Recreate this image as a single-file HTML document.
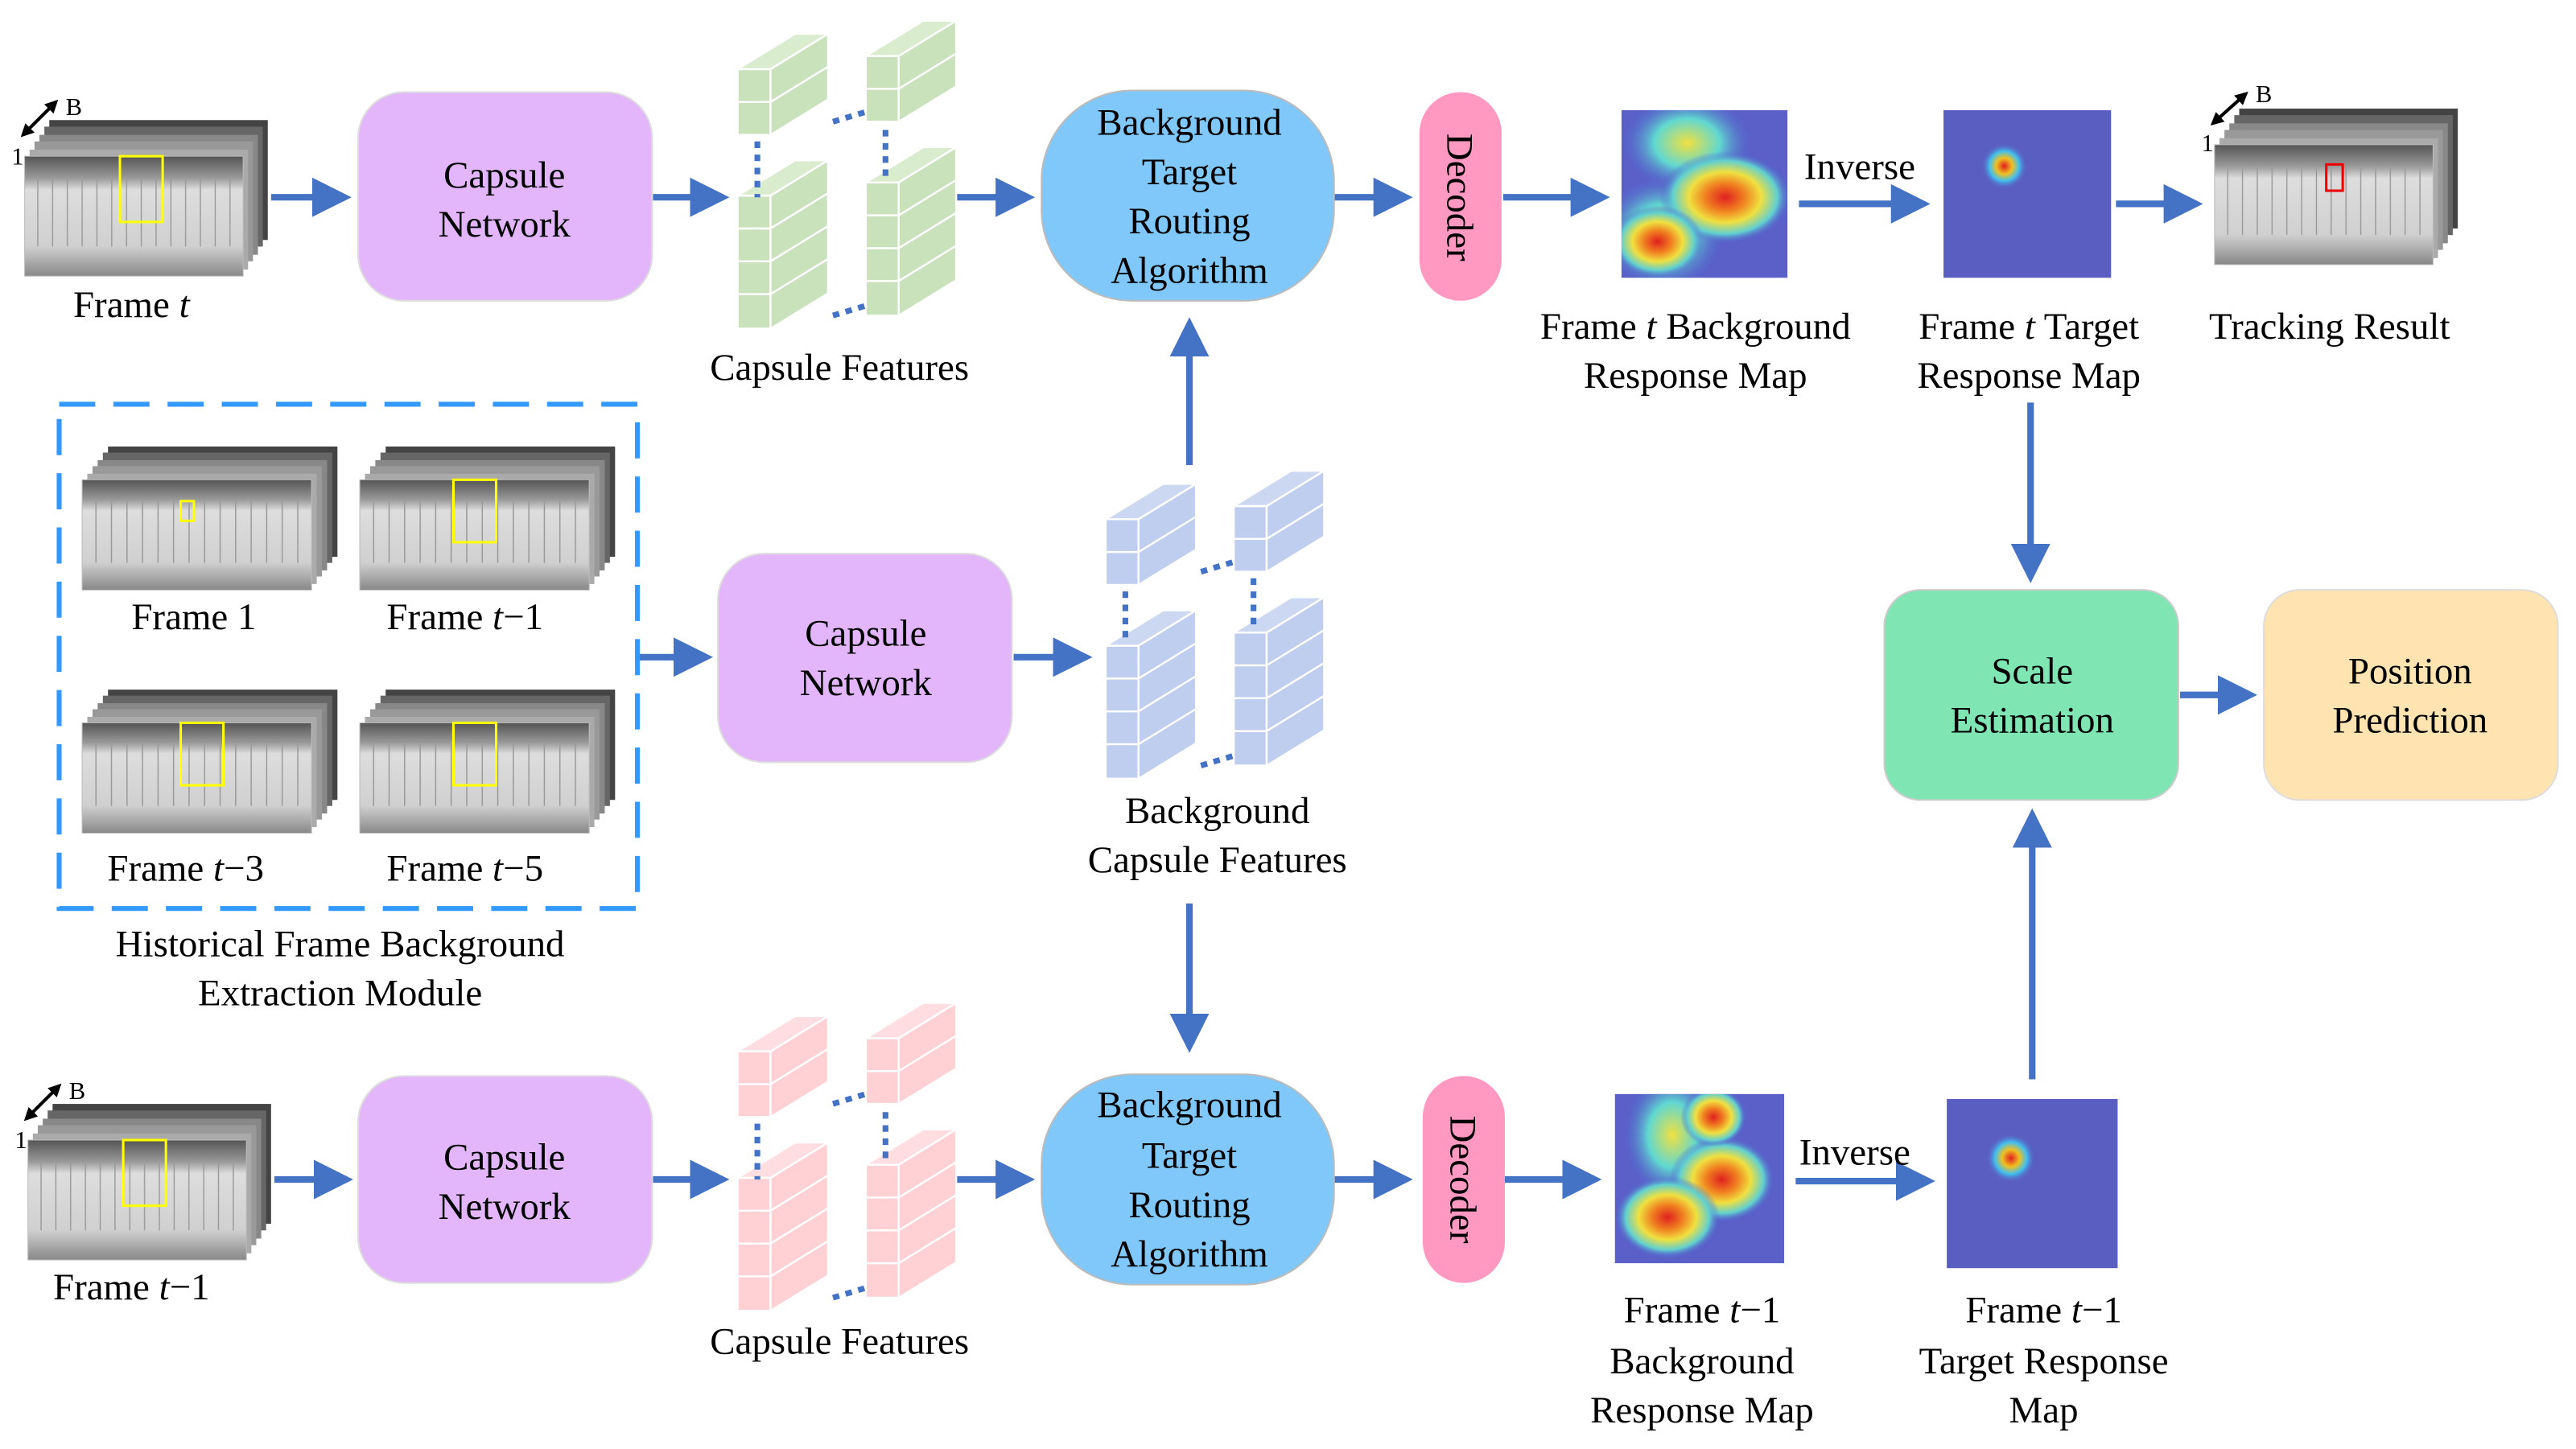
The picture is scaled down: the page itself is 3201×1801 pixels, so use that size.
<!DOCTYPE html>
<html><head><meta charset="utf-8"><style>
html,body{margin:0;padding:0;background:#fff}
svg{display:block}
text{font-family:"Liberation Serif",serif;font-size:23px;fill:#000}
</style></head><body>
<svg width="3201" height="1801" viewBox="0 0 1568 882" xmlns="http://www.w3.org/2000/svg">
<defs>
<marker id="ah" markerWidth="6" markerHeight="6" refX="5" refY="3" orient="auto" markerUnits="strokeWidth"><path d="M0,0 L6,3 L0,6 z" fill="#4472C4"/></marker>
<marker id="bh" markerWidth="4" markerHeight="4" refX="3" refY="2" orient="auto-start-reverse" markerUnits="strokeWidth"><path d="M0,0 L4,2 L0,4 z" fill="#000"/></marker>
<linearGradient id="gray" x1="0" y1="0" x2="0" y2="1"><stop offset="0" stop-color="#555"/><stop offset="0.18" stop-color="#999"/><stop offset="0.28" stop-color="#ddd"/><stop offset="0.75" stop-color="#d0d0d0"/><stop offset="1" stop-color="#888"/></linearGradient>
<pattern id="wall" width="9" height="73" patternUnits="userSpaceOnUse"><rect width="9" height="73" fill="none"/><line x1="8" y1="14" x2="8" y2="55" stroke="#999" stroke-width="0.7"/></pattern>
<radialGradient id="hot"><stop offset="0" stop-color="#e02020"/><stop offset="0.3" stop-color="#f08020"/><stop offset="0.55" stop-color="#f0e040"/><stop offset="0.8" stop-color="#60d0d0"/><stop offset="1" stop-color="#5060d0" stop-opacity="0"/></radialGradient>
<radialGradient id="cy"><stop offset="0" stop-color="#f0e040"/><stop offset="0.5" stop-color="#60d8d0"/><stop offset="1" stop-color="#5060d0" stop-opacity="0"/></radialGradient>
<radialGradient id="spot"><stop offset="0" stop-color="#e02020"/><stop offset="0.35" stop-color="#f0c020"/><stop offset="0.65" stop-color="#40c0f0"/><stop offset="1" stop-color="#5a5ec0" stop-opacity="0"/></radialGradient>
<g id="frm">
 <rect x="15" y="-22" width="133" height="73" fill="#444"/>
 <rect x="12" y="-18" width="133" height="73" fill="#666"/>
 <rect x="9" y="-13" width="133" height="73" fill="#888"/>
 <rect x="6" y="-9" width="133" height="73" fill="#999"/>
 <rect x="3" y="-4" width="133" height="73" fill="#aaa"/>
 <rect x="0" y="0" width="133" height="73" fill="url(#gray)"/>
 <rect x="0" y="0" width="133" height="73" fill="url(#wall)"/>
 <rect x="0" y="0" width="133" height="73" fill="none" stroke="#bbb" stroke-width="0.5"/>
</g>
</defs>
<g stroke="#4472C4" stroke-width="4" fill="none" marker-end="url(#ah)">
<line x1="165" y1="120" x2="210" y2="120"/>
<line x1="397" y1="120" x2="440" y2="120"/>
<line x1="582" y1="120" x2="626" y2="120"/>
<line x1="812" y1="120" x2="856" y2="120"/>
<line x1="915" y1="120" x2="976" y2="120"/>
<line x1="1095" y1="124" x2="1171" y2="124"/>
<line x1="1288" y1="124" x2="1337" y2="124"/>
<line x1="1236" y1="245" x2="1236" y2="351"/>
<line x1="1327" y1="423" x2="1370" y2="423"/>
<line x1="1237" y1="657" x2="1237" y2="496"/>
<line x1="388" y1="400" x2="430" y2="400"/>
<line x1="617" y1="400" x2="661" y2="400"/>
<line x1="724" y1="283" x2="724" y2="197"/>
<line x1="724" y1="550" x2="724" y2="637"/>
<line x1="167" y1="718" x2="211" y2="718"/>
<line x1="397" y1="718" x2="440" y2="718"/>
<line x1="582" y1="718" x2="626" y2="718"/>
<line x1="812" y1="718" x2="856" y2="718"/>
<line x1="916" y1="718" x2="971" y2="718"/>
<line x1="1093" y1="719" x2="1174" y2="719"/>
</g>
<!-- boxes -->
<rect x="218" y="56" width="179" height="127" rx="28" fill="#E3B5FA" stroke="#ddd"/>
<text x="307" y="114" text-anchor="middle">Capsule</text><text x="307" y="144" text-anchor="middle">Network</text>
<rect x="437" y="337" width="179" height="127" rx="28" fill="#E3B5FA" stroke="#ddd"/>
<text x="527" y="393" text-anchor="middle">Capsule</text><text x="527" y="423" text-anchor="middle">Network</text>
<rect x="218" y="655" width="179" height="126" rx="28" fill="#E3B5FA" stroke="#ddd"/>
<text x="307" y="712" text-anchor="middle">Capsule</text><text x="307" y="742" text-anchor="middle">Network</text>
<rect x="634" y="55" width="178" height="128" rx="55" fill="#80C8FA" stroke="#bbb"/>
<text x="724" y="82" text-anchor="middle">Background</text><text x="724" y="112" text-anchor="middle">Target</text><text x="724" y="142" text-anchor="middle">Routing</text><text x="724" y="172" text-anchor="middle">Algorithm</text>
<rect x="634" y="654" width="178" height="128" rx="55" fill="#80C8FA" stroke="#bbb"/>
<text x="724" y="680" text-anchor="middle">Background</text><text x="724" y="711" text-anchor="middle">Target</text><text x="724" y="741" text-anchor="middle">Routing</text><text x="724" y="771" text-anchor="middle">Algorithm</text>
<rect x="864" y="56" width="50" height="127" rx="25" fill="#FF99C2"/>
<text transform="translate(881,120) rotate(90)" text-anchor="middle">Decoder</text>
<rect x="866" y="655" width="50" height="126" rx="25" fill="#FF99C2"/>
<text transform="translate(883,718) rotate(90)" text-anchor="middle">Decoder</text>
<rect x="1147" y="359" width="179" height="128" rx="22" fill="#7FE5B3" stroke="#ccc"/>
<text x="1237" y="416" text-anchor="middle">Scale</text><text x="1237" y="446" text-anchor="middle">Estimation</text>
<rect x="1378" y="359" width="179" height="128" rx="22" fill="#FFE3B0" stroke="#ddd"/>
<text x="1467" y="416" text-anchor="middle">Position</text><text x="1467" y="446" text-anchor="middle">Prediction</text>
<!-- dashed module -->
<rect x="36" y="246" width="352" height="307" fill="none" stroke="#3399FF" stroke-width="3" stroke-dasharray="22,11"/>
<!-- frames -->
<g transform="translate(15,95)"><use href="#frm"/><rect x="58" y="0" width="26" height="40" fill="none" stroke="#ff0" stroke-width="1.5"/></g>
<line x1="14" y1="82" x2="34" y2="62" stroke="#000" stroke-width="2" marker-start="url(#bh)" marker-end="url(#bh)"/>
<text x="40" y="70" style="font-size:15px">B</text><text x="7" y="100" style="font-size:15px">1</text>
<text x="80" y="193" text-anchor="middle">Frame <tspan font-style="italic">t</tspan></text>
<g transform="translate(17,694)"><use href="#frm"/><rect x="58" y="0" width="26" height="40" fill="none" stroke="#ff0" stroke-width="1.5"/></g>
<line x1="16" y1="681" x2="36" y2="661" stroke="#000" stroke-width="2" marker-start="url(#bh)" marker-end="url(#bh)"/>
<text x="42" y="669" style="font-size:15px">B</text><text x="9" y="699" style="font-size:15px">1</text>
<text x="80" y="791" text-anchor="middle">Frame <tspan font-style="italic">t</tspan>−1</text>
<g transform="translate(1348,88)"><use href="#frm"/><rect x="68" y="12" width="10" height="16" fill="none" stroke="#e00" stroke-width="1.5"/></g>
<line x1="1347" y1="75" x2="1367" y2="57" stroke="#000" stroke-width="2" marker-start="url(#bh)" marker-end="url(#bh)"/>
<text x="1373" y="62" style="font-size:15px">B</text><text x="1340" y="92" style="font-size:15px">1</text>
<text x="1418" y="206" text-anchor="middle">Tracking Result</text>
<g transform="translate(50,292) scale(1.05,0.92)"><use href="#frm"/></g><rect x="110" y="305" width="8" height="12" fill="none" stroke="#ff0" stroke-width="1.5"/>
<g transform="translate(219,292) scale(1.05,0.92)"><use href="#frm"/></g><rect x="276" y="292" width="26" height="38" fill="none" stroke="#ff0" stroke-width="1.5"/>
<g transform="translate(50,440) scale(1.05,0.92)"><use href="#frm"/></g><rect x="110" y="440" width="26" height="38" fill="none" stroke="#ff0" stroke-width="1.5"/>
<g transform="translate(219,440) scale(1.05,0.92)"><use href="#frm"/></g><rect x="276" y="440" width="26" height="38" fill="none" stroke="#ff0" stroke-width="1.5"/>
<text x="118" y="383" text-anchor="middle">Frame 1</text><text x="283" y="383" text-anchor="middle">Frame <tspan font-style="italic">t</tspan>−1</text>
<text x="113" y="536" text-anchor="middle">Frame <tspan font-style="italic">t</tspan>−3</text><text x="283" y="536" text-anchor="middle">Frame <tspan font-style="italic">t</tspan>−5</text>
<text x="207" y="582" text-anchor="middle">Historical Frame Background</text><text x="207" y="612" text-anchor="middle">Extraction Module</text>
<!-- heatmaps -->
<rect x="987" y="67" width="101" height="102" fill="#5a60c8"/>
<g clip-path="inset(0)">
<svg x="987" y="67" width="101" height="102" overflow="hidden">
<ellipse cx="40" cy="20" rx="40" ry="30" fill="url(#cy)"/>
<ellipse cx="25" cy="75" rx="38" ry="35" fill="url(#cy)"/>
<ellipse cx="63" cy="53" rx="40" ry="28" fill="url(#hot)"/><ellipse cx="22" cy="80" rx="28" ry="22" fill="url(#hot)"/>
</svg></g>
<rect x="1183" y="67" width="102" height="102" fill="#5a5ec0"/><circle cx="1220" cy="101" r="14" fill="url(#spot)"/>
<text x="1132" y="109" text-anchor="middle">Inverse</text>
<text x="1032" y="206" text-anchor="middle">Frame <tspan font-style="italic">t</tspan> Background</text><text x="1032" y="236" text-anchor="middle">Response Map</text>
<text x="1235" y="206" text-anchor="middle">Frame <tspan font-style="italic">t</tspan> Target</text><text x="1235" y="236" text-anchor="middle">Response Map</text>
<rect x="983" y="666" width="103" height="103" fill="#5a60c8"/>
<svg x="983" y="666" width="103" height="103" overflow="hidden">
<ellipse cx="35" cy="25" rx="30" ry="40" fill="url(#cy)"/>
<ellipse cx="65" cy="52" rx="32" ry="26" fill="url(#hot)"/><ellipse cx="32" cy="75" rx="32" ry="25" fill="url(#hot)"/><ellipse cx="60" cy="14" rx="20" ry="18" fill="url(#hot)"/>
</svg>
<rect x="1185" y="669" width="104" height="103" fill="#5a5ec0"/><circle cx="1224" cy="705" r="15" fill="url(#spot)"/>
<text x="1129" y="709" text-anchor="middle">Inverse</text>
<text x="1036" y="805" text-anchor="middle">Frame <tspan font-style="italic">t</tspan>−1</text><text x="1036" y="836" text-anchor="middle">Background</text><text x="1036" y="866" text-anchor="middle">Response Map</text>
<text x="1244" y="805" text-anchor="middle">Frame <tspan font-style="italic">t</tspan>−1</text><text x="1244" y="836" text-anchor="middle">Target Response</text><text x="1244" y="866" text-anchor="middle">Map</text>
<!-- cubes -->
<g stroke="#fff" stroke-width="1.2">
<g fill="#C9E2BC">
<path d="M449,42 h20 v40 h-20z M469,42 l35,-21.5 v40 l-35,21.5z" /><path d="M449,42 l35,-21.5 h20 l-35,21.5z" fill="#D9ECCE"/><line x1="449" y1="62" x2="469" y2="62"/><line x1="469" y1="62" x2="504" y2="40.5"/>
<path d="M449,119 h20 v81 h-20z M469,119 l35,-21.5 v81 l-35,21.5z"/><path d="M449,119 l35,-21.5 h20 l-35,21.5z" fill="#D9ECCE"/>
<path d="M449,139 h20 M449,159 h20 M449,179 h20 M469,139 l35,-21.5 M469,159 l35,-21.5 M469,179 l35,-21.5"/>
<path d="M527,34 h20 v40 h-20z M547,34 l35,-21.5 v40 l-35,21.5z"/><path d="M527,34 l35,-21.5 h20 l-35,21.5z" fill="#D9ECCE"/><path d="M527,54 h20 M547,54 l35,-21.5"/>
<path d="M527,111 h20 v81 h-20z M547,111 l35,-21.5 v81 l-35,21.5z"/><path d="M527,111 l35,-21.5 h20 l-35,21.5z" fill="#D9ECCE"/>
<path d="M527,131 h20 M527,151 h20 M527,171 h20 M547,131 l35,-21.5 M547,151 l35,-21.5 M547,171 l35,-21.5"/>
</g>
<g fill="#FFD0D4">
<path d="M449,640 h20 v40 h-20z M469,640 l35,-21.5 v40 l-35,21.5z"/><path d="M449,640 l35,-21.5 h20 l-35,21.5z" fill="#FFDDE0"/><path d="M449,660 h20 M469,660 l35,-21.5"/>
<path d="M449,717 h20 v81 h-20z M469,717 l35,-21.5 v81 l-35,21.5z"/><path d="M449,717 l35,-21.5 h20 l-35,21.5z" fill="#FFDDE0"/>
<path d="M449,737 h20 M449,757 h20 M449,777 h20 M469,737 l35,-21.5 M469,757 l35,-21.5 M469,777 l35,-21.5"/>
<path d="M527,632 h20 v40 h-20z M547,632 l35,-21.5 v40 l-35,21.5z"/><path d="M527,632 l35,-21.5 h20 l-35,21.5z" fill="#FFDDE0"/><path d="M527,652 h20 M547,652 l35,-21.5"/>
<path d="M527,709 h20 v81 h-20z M547,709 l35,-21.5 v81 l-35,21.5z"/><path d="M527,709 l35,-21.5 h20 l-35,21.5z" fill="#FFDDE0"/>
<path d="M527,729 h20 M527,749 h20 M527,769 h20 M547,729 l35,-21.5 M547,749 l35,-21.5 M547,769 l35,-21.5"/>
</g>
<g fill="#BFCDEE">
<path d="M673,316 h20 v40 h-20z M693,316 l35,-21.5 v40 l-35,21.5z"/><path d="M673,316 l35,-21.5 h20 l-35,21.5z" fill="#CCD8F2"/><path d="M673,336 h20 M693,336 l35,-21.5"/>
<path d="M673,393 h20 v81 h-20z M693,393 l35,-21.5 v81 l-35,21.5z"/><path d="M673,393 l35,-21.5 h20 l-35,21.5z" fill="#CCD8F2"/>
<path d="M673,413 h20 M673,433 h20 M673,453 h20 M693,413 l35,-21.5 M693,433 l35,-21.5 M693,453 l35,-21.5"/>
<path d="M751,308 h20 v40 h-20z M771,308 l35,-21.5 v40 l-35,21.5z"/><path d="M751,308 l35,-21.5 h20 l-35,21.5z" fill="#CCD8F2"/><path d="M751,328 h20 M771,328 l35,-21.5"/>
<path d="M751,385 h20 v81 h-20z M771,385 l35,-21.5 v81 l-35,21.5z"/><path d="M751,385 l35,-21.5 h20 l-35,21.5z" fill="#CCD8F2"/>
<path d="M751,405 h20 M751,425 h20 M751,445 h20 M771,405 l35,-21.5 M771,425 l35,-21.5 M771,445 l35,-21.5"/>
</g>
</g>
<g stroke="#4472C4" stroke-width="3.5" stroke-dasharray="4,4" fill="none">
<path d="M461,86 v34 M539,79 v28 M507,74 l20,-6 M507,192 l20,-6"/>
<path d="M461,684 v34 M539,677 v28 M507,672 l20,-6 M507,790 l20,-6"/>
<path d="M685,360 v28 M763,352 v28 M731,348 l20,-6 M731,466 l20,-6"/>
</g>
<text x="511" y="231" text-anchor="middle">Capsule Features</text>
<text x="511" y="824" text-anchor="middle">Capsule Features</text>
<text x="741" y="501" text-anchor="middle">Background</text><text x="741" y="531" text-anchor="middle">Capsule Features</text>
</svg>
</body></html>
